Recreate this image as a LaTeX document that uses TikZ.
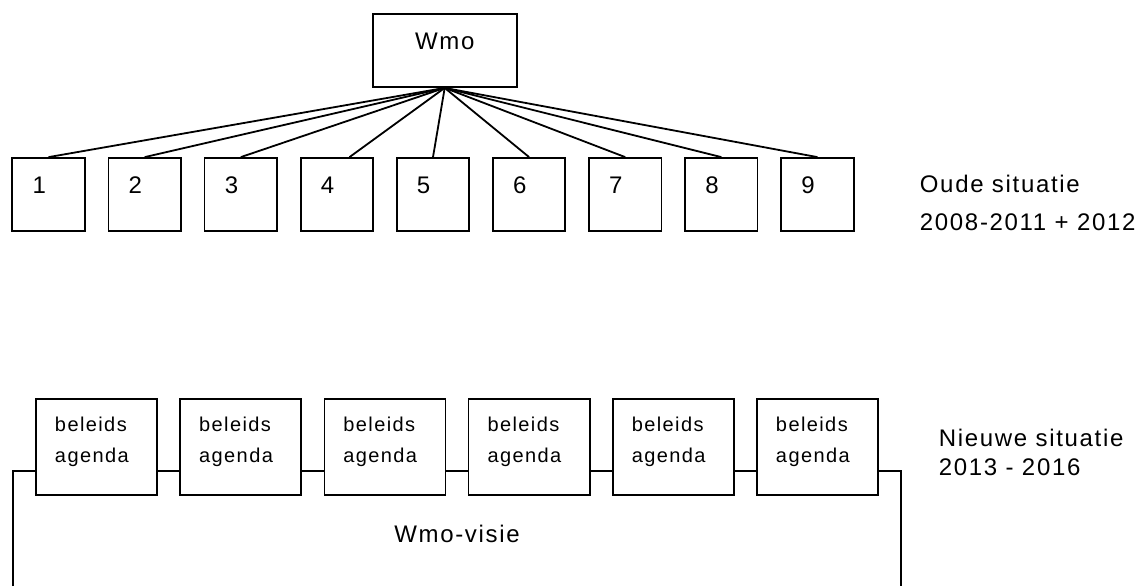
\documentclass[tikz,border=0pt]{standalone}
\usepackage{fontspec}
\setmainfont{Liberation Sans}[LetterSpace=7]
\usetikzlibrary{matrix}

\begin{document}
\begin{tikzpicture}[x=0.5pt,y=-0.5pt,line width=0.9pt,font=\fontsize{12}{14.5}\selectfont,
	num/.style={draw,minimum width=36.25pt,minimum height=36.5pt,inner sep=0pt,text width=16pt,align=left,text height=8.6pt,text depth=10.1pt},
	agenda/.style={draw,minimum width=60.5pt,minimum height=48pt,inner sep=0pt,text width=41.5pt,align=left,font=\fontsize{10}{15.75}\selectfont,text height=7pt,text depth=22.75pt}]
	\useasboundingbox (0,0) rectangle (1146,586);
	% oude situatie
	\node[draw,minimum width=72pt,minimum height=36.5pt,inner sep=0pt,text height=8.6pt,text depth=10.1pt] (wmo) at (444.7,50.5) {Wmo};
	\matrix[matrix of nodes,nodes={num},column sep=10.9pt,ampersand replacement=\&] (oud) at (433,194.5)
	{
		|(n1)| 1 \& |(n2)| 2 \& |(n3)| 3 \& |(n4)| 4 \& |(n5)| 5 \& |(n6)| 6 \& |(n7)| 7 \& |(n8)| 8 \& |(n9)| 9 \\
	};
	\draw (wmo.south) -- (n1.north);
	\draw (wmo.south) -- (n2.north);
	\draw (wmo.south) -- (n3.north);
	\draw (wmo.south) -- ([xshift=6.3pt]n4.north);
	\draw (wmo.south) -- (n5.north);
	\draw (wmo.south) -- (n6.north);
	\draw (wmo.south) -- (n7.north);
	\draw (wmo.south) -- (n8.north);
	\draw (wmo.south) -- (n9.north);
	\node[anchor=base west,align=left,inner sep=0pt,font=\fontsize{12}{19}\selectfont] (oude) at (919,230) {Oude situatie\\2008-2011 + 2012};
	% nieuwe situatie
	\matrix[matrix of nodes,nodes={agenda},column sep=10.7pt,ampersand replacement=\&] (nieuw) at (457,447)
	{
		|(b1)| beleids\par agenda \& |(b2)| beleids\par agenda \& |(b3)| beleids\par agenda \& |(b4)| beleids\par agenda \& |(b5)| beleids\par agenda \& |(b6)| beleids\par agenda \\
	};
	\coordinate (lb) at (13,586);
	\coordinate (rb) at (901,586);
	\draw (lb) |- ([yshift=-12pt]b1.west);
	\draw ([yshift=-12pt]b1.east) -- ([yshift=-12pt]b2.west);
	\draw ([yshift=-12pt]b2.east) -- ([yshift=-12pt]b3.west);
	\draw ([yshift=-12pt]b3.east) -- ([yshift=-12pt]b4.west);
	\draw ([yshift=-12pt]b4.east) -- ([yshift=-12pt]b5.west);
	\draw ([yshift=-12pt]b5.east) -- ([yshift=-12pt]b6.west);
	\draw ([yshift=-12pt]b6.east) -| (rb);
	\node[anchor=base,inner sep=0pt] (visie) at (457,542) {Wmo-visie};
	\node[anchor=base west,align=left,inner sep=0pt] (nieuwe) at (938,475) {Nieuwe situatie\\2013 - 2016};
\end{tikzpicture}
\end{document}
